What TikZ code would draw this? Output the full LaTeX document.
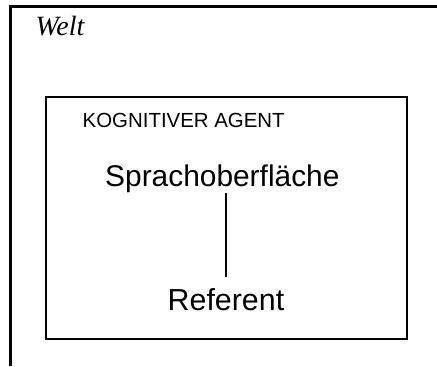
\documentclass[tikz,border=0pt]{standalone}
\usepackage{fontspec}
\setmainfont{Liberation Serif}
\setsansfont{Liberation Sans}
\tikzset{
  rahmen/.style={line width=2.2bp},
  label/.style={inner sep=0pt,anchor=base west,font=\sffamily}
}
\begin{document}
\begin{tikzpicture}[x=1bp,y=-1bp]
\useasboundingbox (0,0) rectangle (437,366);

% Welt
\draw[rahmen] (10.5,366) -- (10.5,6.5) -- (437,6.5);
\node[label,font=\fontsize{28}{28}\selectfont\itshape] (welt) at (35.5,35) {Welt};

% Agent
\draw[rahmen,line width=2bp] (46,97) rectangle (406.5,339);
\node[label,font=\sffamily\fontsize{20.5}{20.5}\selectfont] (agent) at (82.5,127.7) {KOGNITIVER AGENT};

\node[label,font=\sffamily\fontsize{30}{30}\selectfont] (sprache) at (105,186.7) {Sprachoberfläche};
\node[label,font=\sffamily\fontsize{30.5}{30.5}\selectfont] (referent) at (167.5,310) {Referent};

\draw[line width=1.1bp] (sprache.south -| referent.north) -- ([yshift=11bp]referent.north);

\end{tikzpicture}
\end{document}
